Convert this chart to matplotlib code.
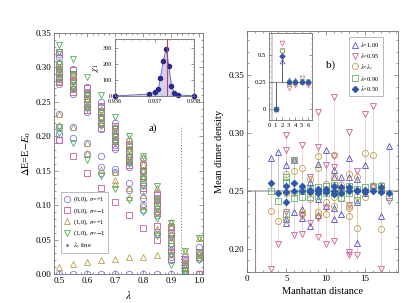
import matplotlib
matplotlib.use('Agg')
import matplotlib.pyplot as plt
from matplotlib.ticker import AutoMinorLocator, MultipleLocator, FixedLocator
from matplotlib.lines import Line2D

plt.rcParams['font.family'] = ['Liberation Serif', 'DejaVu Serif']
plt.rcParams['mathtext.fontset'] = 'stix'

# ---------------- panel a data ----------------
lam = [0.50, 0.55, 0.60, 0.65, 0.70, 0.75, 0.80, 0.85, 0.90, 0.95, 1.00]
e00_p = [
    [0.0, 0.195, 0.203, 0.213, 0.232, 0.276, 0.283, 0.29, 0.297, 0.305, 0.315, 0.32],
    [0.0, 0.198, 0.213, 0.262, 0.268, 0.275, 0.282, 0.29, 0.298],
    [0.0, 0.174, 0.19, 0.235, 0.242, 0.25, 0.258, 0.265, 0.272],
    [0.0, 0.147, 0.155, 0.171, 0.21, 0.218, 0.226, 0.234, 0.242, 0.25],
    [0.0, 0.148, 0.152, 0.182, 0.188, 0.196, 0.204, 0.212, 0.22],
    [0.0, 0.122, 0.132, 0.155, 0.162, 0.17, 0.178, 0.186, 0.193],
    [0.0, 0.093, 0.10, 0.11, 0.12, 0.13, 0.14, 0.15, 0.16, 0.168],
    [0.0, 0.058, 0.061, 0.085, 0.09, 0.095, 0.103, 0.11, 0.118],
    [0.0, 0.02, 0.025, 0.035, 0.045, 0.055, 0.065, 0.07],
    [0.0, 0.005, 0.01, 0.02, 0.025],
    [0.0, 0.022, 0.028, 0.039],
]
e00_m = [
    [0.194, 0.279, 0.286, 0.293, 0.30, 0.322],
    [0.171, 0.265, 0.272, 0.28, 0.288, 0.296],
    [0.146, 0.238, 0.246, 0.254, 0.262, 0.27],
    [0.125, 0.212, 0.22, 0.228, 0.236, 0.244],
    [0.105, 0.185, 0.193, 0.20, 0.208, 0.215],
    [0.085, 0.158, 0.165, 0.172, 0.18, 0.188],
    [0.067, 0.125, 0.133, 0.142, 0.15, 0.158],
    [0.049, 0.07, 0.092, 0.10, 0.108, 0.115],
    [0.022, 0.03, 0.04, 0.05, 0.06, 0.068],
    [0.002, 0.008, 0.015, 0.022],
    [0.0, 0.025, 0.032],
]
e10_p = [
    [0.01, 0.217, 0.232, 0.28, 0.29, 0.30, 0.31],
    [0.014, 0.213, 0.27, 0.28, 0.29],
    [0.0175, 0.176, 0.19, 0.245, 0.255, 0.265],
    [0.02, 0.152, 0.22, 0.23, 0.24],
    [0.022, 0.13, 0.137, 0.148, 0.195, 0.205, 0.215],
    [0.024, 0.112, 0.125, 0.17, 0.18, 0.19, 0.198],
    [0.025, 0.10, 0.115, 0.14, 0.15, 0.16, 0.17],
    [0.028, 0.065, 0.09, 0.10, 0.11, 0.125],
    [0.03, 0.05, 0.06, 0.07, 0.075],
    [0.033, 0.01, 0.02],
    [0.052, 0.03, 0.025],
]
e10_m = [
    [0.205, 0.213, 0.285, 0.295, 0.305, 0.322, 0.333],
    [0.19, 0.268, 0.278, 0.29, 0.312],
    [0.166, 0.24, 0.25, 0.26, 0.286],
    [0.142, 0.215, 0.225, 0.235, 0.26],
    [0.124, 0.19, 0.20, 0.21, 0.228],
    [0.108, 0.16, 0.17, 0.18, 0.20],
    [0.09, 0.128, 0.138, 0.148, 0.172],
    [0.055, 0.08, 0.095, 0.105, 0.128],
    [0.013, 0.028, 0.04, 0.052, 0.074],
    [0.0, 0.005, 0.012, 0.033],
    [0.052, 0.02, 0.03],
]
lam_c = 0.9373

chi_x = [0.9360, 0.93685, 0.93700, 0.93710, 0.93715, 0.93722, 0.93730, 0.93736, 0.93743, 0.93750, 0.93760, 0.9380]
chi_y = [0, 12, 25, 45, 112, 215, 295, 185, 65, 18, 8, 0]

# ---------------- panel b data ----------------
d_100 = [3, 4, 5, 5, 5, 6, 6, 7, 7, 8, 8, 9, 9, 9, 10, 10, 11, 11, 11, 11, 12, 12, 13, 13, 14, 14, 14, 15, 15, 16, 17, 18]
v_100 = [0.278, 0.284, 0.272, 0.226, 0.222, 0.277, 0.232, 0.227, 0.234, 0.258, 0.22, 0.273, 0.243, 0.229,
         0.285, 0.237, 0.268, 0.262, 0.235, 0.226, 0.262, 0.23, 0.278, 0.262, 0.26, 0.205, 0.24, 0.272, 0.248,
         0.255, 0.228, 0.289]
d_095 = [3, 4, 5, 5, 5, 6, 6, 7, 7, 7, 8, 8, 9, 9, 9, 9, 10, 10, 10, 11, 11, 11, 11, 12, 13, 13, 13, 13, 14, 14, 15, 16, 16, 17, 18]
v_095 = [0.183, 0.204, 0.298, 0.285, 0.232, 0.277, 0.212, 0.29, 0.213, 0.228, 0.262, 0.222, 0.318, 0.288, 0.21,
         0.227, 0.272, 0.204, 0.235, 0.331, 0.28, 0.271, 0.207, 0.25, 0.301, 0.197, 0.195, 0.238, 0.267, 0.195,
         0.316, 0.323, 0.253, 0.183, 0.241]
d_c = [3, 4, 5, 5, 5, 6, 6, 7, 7, 7, 8, 8, 9, 9, 9, 9, 10, 10, 10, 11, 11, 11, 11, 12, 12, 13, 13, 13, 13, 14, 14, 14, 15, 15, 16, 16, 17, 17]
v_c = [0.233, 0.224, 0.265, 0.248, 0.226, 0.267, 0.248, 0.27, 0.232, 0.23, 0.243, 0.26, 0.28, 0.27, 0.232, 0.228,
       0.256, 0.24, 0.23, 0.281, 0.262, 0.237, 0.245, 0.244, 0.255, 0.265, 0.228, 0.235, 0.237, 0.262, 0.218,
       0.246, 0.283, 0.245, 0.281, 0.253, 0.255, 0.217]
d_090 = [3, 4, 5, 5, 5, 6, 6, 7, 7, 8, 8, 9, 9, 10, 10, 11, 11, 12, 12, 13, 13, 14, 14, 15, 16, 17, 17, 18]
v_090 = [0.25, 0.241, 0.262, 0.258, 0.23, 0.277, 0.244, 0.25, 0.245, 0.245, 0.252, 0.253, 0.246, 0.248, 0.254,
         0.255, 0.248, 0.25, 0.244, 0.254, 0.248, 0.242, 0.252, 0.253, 0.254, 0.251, 0.254, 0.245]
d_050 = [3, 4, 5, 5, 5, 6, 6, 7, 7, 8, 8, 9, 9, 9, 10, 10, 11, 11, 11, 12, 12, 13, 13, 14, 14, 15, 15, 16, 17, 17, 18]
v_050 = [0.257, 0.248, 0.254, 0.249, 0.24, 0.257, 0.25, 0.254, 0.25, 0.251, 0.249, 0.252, 0.25, 0.248, 0.252,
         0.249, 0.254, 0.25, 0.247, 0.253, 0.248, 0.253, 0.25, 0.25, 0.251, 0.249, 0.251, 0.25, 0.253, 0.249, 0.248]

# inset b (short distances)
di = [1, 2, 3, 4, 5, 6]
vi_100 = [0.0, 0.44, 0.27, 0.27, 0.255, 0.25]
vi_095 = [0.0, 0.61, 0.19, 0.22, 0.285, 0.22]
vi_c = [0.0, 0.53, 0.235, 0.24, 0.245, 0.248]
vi_090 = [0.0, 0.546, 0.25, 0.245, 0.26, 0.262]
vi_050 = [0.0, 0.49, 0.25, 0.245, 0.25, 0.25]

# ---------------- styles ----------------
W, H = 415, 303
fig = plt.figure(figsize=(W / 100, H / 100), dpi=100)
frame_col = '#707070'

def style_axes(ax, fs):
    for s in ax.spines.values():
        s.set_color(frame_col)
        s.set_linewidth(0.6)
    ax.tick_params(which='both', direction='in', top=True, right=True, colors=frame_col,
                   labelcolor='black', labelsize=fs, width=0.5, pad=2)
    ax.tick_params(which='major', length=3)
    ax.tick_params(which='minor', length=1.6)

def fax(x0, y0, x1, y1):
    return fig.add_axes([x0 / W, 1 - y1 / H, (x1 - x0) / W, (y1 - y0) / H])

# ---------------- panel a ----------------
axa = fax(54, 33, 203, 274)
sectors = [
    (e00_p, 'o', '#7b7be0', r'(0,0), $\sigma$=+1'),
    (e00_m, 's', '#c0609a', r'(0,0), $\sigma$=$-$1'),
    (e10_p, '^', '#b8a050', r'(1,0), $\sigma$=+1'),
    (e10_m, 'v', '#4fae55', r'(1,0), $\sigma$=$-$1'),
]
for e, m, c, lab in sectors:
    xs = [l for l, vals in zip(lam, e) for v in vals]
    ys = [v for vals in e for v in vals]
    axa.plot(xs, ys, ls='none', marker=m, ms=4.6, mfc='none', mec=c, mew=0.6, label=lab, clip_on=True)
axa.plot([lam_c, lam_c], [0, 0.215], ls=(0, (1, 2)), color='#6070c0', lw=0.7)
axa.set_xlim(0.482, 1.0143)
axa.set_ylim(0, 0.35)
axa.xaxis.set_major_locator(MultipleLocator(0.1))
axa.xaxis.set_minor_locator(AutoMinorLocator(5))
axa.yaxis.set_major_locator(MultipleLocator(0.05))
axa.yaxis.set_minor_locator(AutoMinorLocator(5))
style_axes(axa, 6.5)
axa.xaxis.set_major_formatter(plt.FuncFormatter(lambda v, p: f'{v:.1f}'))
axa.yaxis.set_major_formatter(plt.FuncFormatter(lambda v, p: f'{v:.2f}'))
axa.set_xlabel(r'$\lambda$', fontsize=8, labelpad=3)
axa.set_ylabel(r'$\Delta$E=E$-E_0$', fontsize=7.5, labelpad=2)
fig.text(149 / W, 1 - 131 / H, 'a)', fontsize=8)

handles, labels = axa.get_legend_handles_labels()
handles.append(Line2D([], [], ls='none', marker='.', ms=2, color='#6070c0'))
labels.append(r'$\lambda_c$ line')
lga = axa.legend(handles, labels, loc='lower left', bbox_to_anchor=(61 / W, 1 - 253 / H),
                 bbox_transform=fig.transFigure, fontsize=4.8, handlelength=1.0, handletextpad=0.3,
                 labelspacing=0.25, borderpad=0.45, borderaxespad=0, fancybox=False, framealpha=1)
lga.get_frame().set_edgecolor('#b0b0b0')
lga.get_frame().set_linewidth(0.6)

# inset a
axi = fax(115, 39, 194, 96)
axi.fill_between(chi_x, chi_y, 0, color='#c9c9ea', alpha=0.8, lw=0)
axi.plot(chi_x, chi_y, color='#5a5ab0', lw=0.6)
axi.plot(chi_x, chi_y, ls='none', marker='o', ms=3, color='#2a2a90', clip_on=False)
axi.axvline(0.93731, color='#c04060', lw=0.8)
axi.set_xlim(0.936, 0.938)
axi.set_ylim(0, 355)
axi.xaxis.set_major_locator(FixedLocator([0.936, 0.937, 0.938]))
axi.xaxis.set_minor_locator(AutoMinorLocator(5))
axi.yaxis.set_major_locator(MultipleLocator(100))
axi.yaxis.set_minor_locator(AutoMinorLocator(5))
style_axes(axi, 4.5)
axi.tick_params(which='major', length=2)
axi.tick_params(which='minor', length=1)
axi.xaxis.set_major_formatter(plt.FuncFormatter(lambda v, p: f'{v:.3f}'))
axi.set_ylabel(r'$\chi_1$', fontsize=6, labelpad=1)

# ---------------- panel b ----------------
axb = fax(247, 31, 398, 272)
axb.axhline(0.25, color='#b0b0b0', lw=1.2, zorder=1)
axb.plot([1, 1], [0, 0.25], color='#909090', lw=0.8, zorder=1)
series = [
    (d_100, v_100, '^', '#5050c8', '#a8a8e4', 'none', r'$\lambda$=1.00'),
    (d_095, v_095, 'v', '#c86496', '#e8bcd0', 'none', r'$\lambda$=0.95'),
    (d_c, v_c, 'o', '#c0a050', '#e0d2a8', 'none', r'$\lambda$=$\lambda_c$'),
    (d_090, v_090, 's', '#60b070', '#b4dcbc', 'none', r'$\lambda$=0.90'),
    (d_050, v_050, 'D', '#2f56a8', '#8a9ecc', '#2f56a8', r'$\lambda$=0.50'),
]
for d, v, m, c, sc, fc, lab in series:
    axb.vlines(d, 0.25, v, color=sc, lw=0.7, alpha=0.7, zorder=2)
for d, v, m, c, sc, fc, lab in series:
    axb.plot(d, v, ls='none', marker=m, ms=4.4 if m != 'D' else 3.4, mfc=fc, mec=c, mew=0.6,
             label=lab, zorder=3)
axb.set_xlim(0, 19.2)
axb.set_ylim(0.18, 0.388)
axb.xaxis.set_major_locator(MultipleLocator(5))
axb.xaxis.set_minor_locator(AutoMinorLocator(5))
axb.yaxis.set_major_locator(MultipleLocator(0.05))
axb.yaxis.set_minor_locator(AutoMinorLocator(5))
style_axes(axb, 6.5)
axb.yaxis.set_major_formatter(plt.FuncFormatter(lambda v, p: f'{v:.2f}'))
axb.set_xlabel('Manhattan distance', fontsize=7.5, labelpad=3)
axb.set_ylabel('Mean dimer density', fontsize=7.5, labelpad=3)
fig.text(326 / W, 1 - 68 / H, 'b)', fontsize=8)

lgb = axb.legend(loc='upper left', bbox_to_anchor=(349 / W, 1 - 37 / H), bbox_transform=fig.transFigure,
                 fontsize=4.6, handlelength=1.0, handletextpad=0.3, labelspacing=0.3, borderpad=0.45,
                 borderaxespad=0, fancybox=False, framealpha=1)
lgb.get_frame().set_edgecolor('#b0b0b0')
lgb.get_frame().set_linewidth(0.6)

# inset b
axj = fax(269, 33, 311.5, 120)
axj.axvline(0.5, color='#c8c8c8', lw=1.2, zorder=1)
axj.axhline(0.25, color='#909090', lw=0.8, zorder=1)
inset_series = [
    (vi_100, '^', '#5050c8', 'none'),
    (vi_095, 'v', '#c86496', 'none'),
    (vi_c, 'o', '#c0a050', 'none'),
    (vi_090, 's', '#60b070', 'none'),
    (vi_050, 'D', '#2f56a8', '#2f56a8'),
]
axj.vlines(di[:2], 0.25, vi_050[:2], color='#404040', lw=0.6, zorder=2)
for v, m, c, fc in inset_series:
    axj.plot(di, v, ls='none', marker=m, ms=3.4 if m != 'D' else 2.8, mfc=fc, mec=c, mew=0.5, zorder=3)
axj.set_xlim(0, 6.5)
axj.set_ylim(-0.1, 0.70)
axj.xaxis.set_major_locator(MultipleLocator(1))
axj.yaxis.set_major_locator(FixedLocator([0, 0.25, 0.5]))
axj.yaxis.set_minor_locator(MultipleLocator(0.05))
style_axes(axj, 4.8)
axj.tick_params(top=False, which='both')
axj.tick_params(which='major', length=2)
axj.tick_params(which='minor', length=1)
axj.yaxis.set_major_formatter(plt.FuncFormatter(lambda v, p: {0: '0', 0.25: '0.25', 0.5: '0.5'}.get(round(v, 2), '')))

fig.savefig('out.png', dpi=100)
